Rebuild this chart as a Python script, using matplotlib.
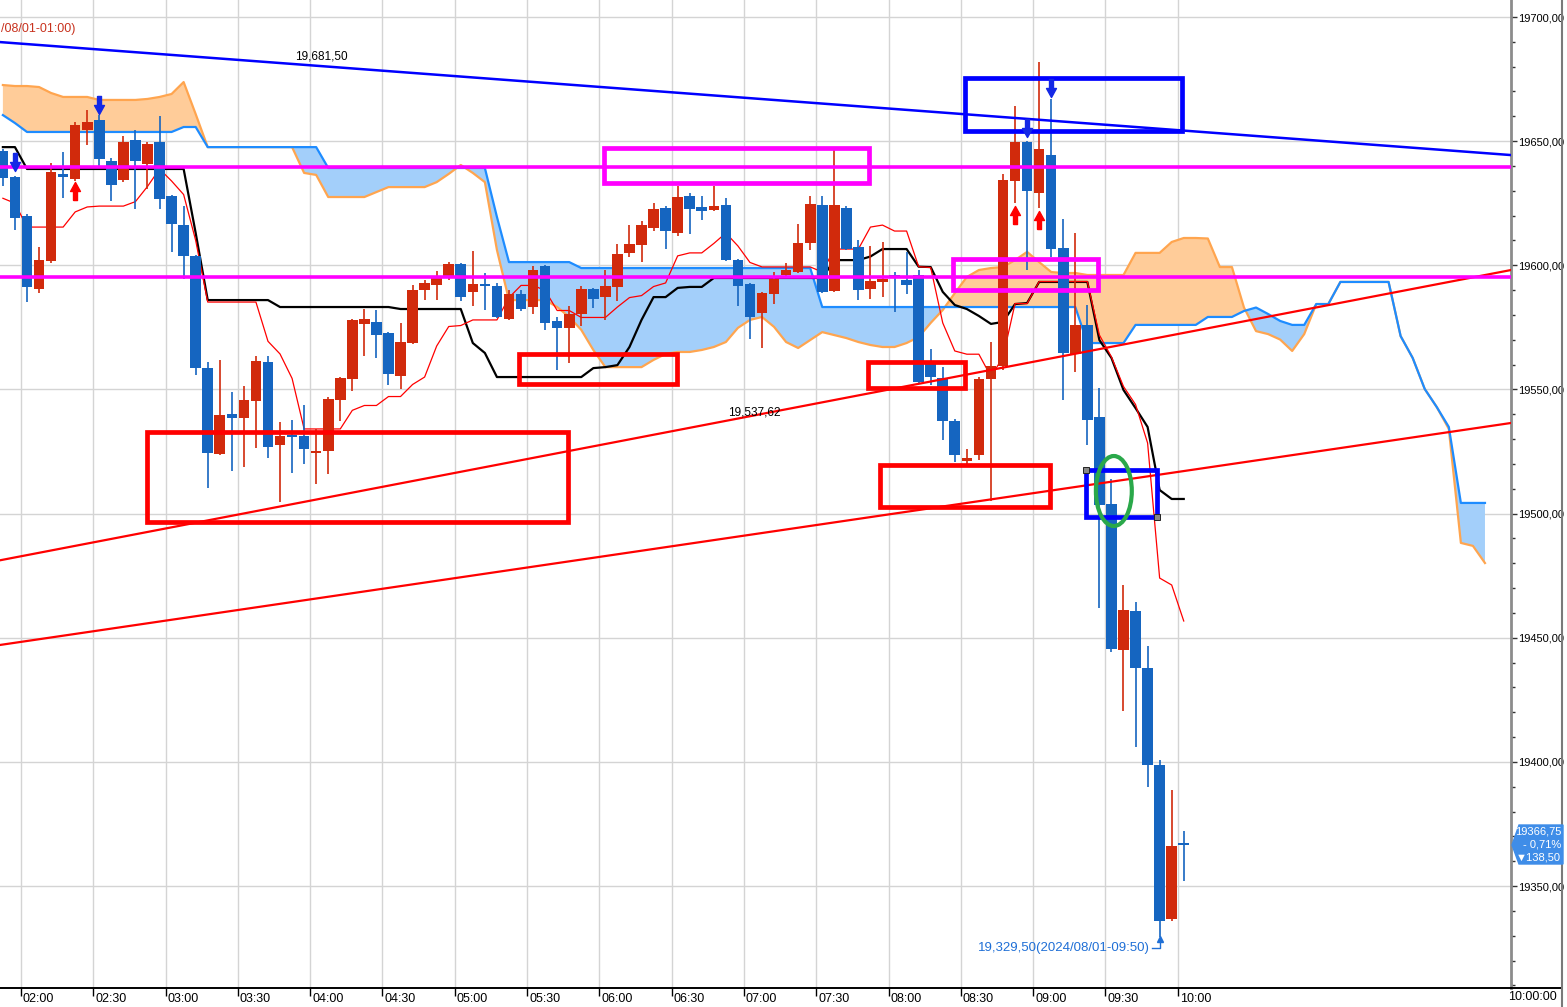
import matplotlib
matplotlib.use("Agg")
import matplotlib.pyplot as plt
import matplotlib.transforms as mtransforms
import numpy as np
import pandas as pd
from matplotlib.lines import Line2D
from matplotlib.patches import Ellipse, Polygon, Rectangle
from matplotlib.path import Path
from matplotlib.ticker import FuncFormatter, MultipleLocator

plt.rcParams['font.family'] = ['Liberation Sans', 'DejaVu Sans']

# ---- data: 5 minute bars, 2024-08-01 01:50 .. 10:00 ----
bar_times = pd.date_range("2024-08-01 01:50", "2024-08-01 10:00", freq="5min")

opens = [19646, 19635.6, 19619.9, 19590.5, 19601.7, 19636.8, 19634.8, 19654.5, 19658.5, 19642,
         19634.4, 19650.5, 19640.8, 19649.7, 19627.9, 19616.2, 19603.7, 19558.6, 19524, 19540.1,
         19538.5, 19545.4, 19561.1, 19527.6, 19531.7, 19531.3, 19524.4, 19525.2, 19545.8, 19554.2,
         19576.4, 19577.2, 19572.7, 19555.4, 19568.7, 19590.1, 19592.1, 19595.7, 19600.5, 19589.3,
         19592.5, 19591.7, 19578.4, 19588.5, 19583.2, 19599.7, 19577.6, 19574.8, 19580.4, 19590.5,
         19587.2, 19591.3, 19605, 19608.2, 19615, 19623.1, 19613, 19627.9, 19623.5, 19622.3,
         19624.3, 19602.1, 19592.5, 19580.8, 19588.5, 19596.1, 19597.3, 19609, 19624.3, 19589.7,
         19623.1, 19607.4, 19590.5, 19593.3, 19596, 19594, 19596.1, 19560.7, 19554.6, 19537.3,
         19521, 19523.6, 19554.2, 19559.4, 19634, 19649.7, 19629.1, 19644.4, 19607, 19564.3,
         19576, 19538.9, 19503.9, 19445.1, 19460.8, 19437.8, 19398.8, 19336.7, 19366.75]
highs = [19647, 19636, 19620.5, 19607.4, 19641.2, 19645.6, 19657.7, 19662.5, 19660.5, 19643.2,
         19652.1, 19654.5, 19649.5, 19660.1, 19628.5, 19623.9, 19604.2, 19561.1, 19561.9, 19549,
         19551.4, 19563.5, 19563.5, 19536.9, 19537.7, 19543.7, 19534.1, 19547, 19555, 19578.5,
         19582.4, 19582, 19573.2, 19576.8, 19592.1, 19594, 19597.7, 19601.3, 19601, 19605.8,
         19596.9, 19593, 19590, 19590, 19599.7, 19600.2, 19579.2, 19583.6, 19591.7, 19591,
         19598.1, 19608.6, 19616.2, 19617.8, 19625.1, 19624, 19632, 19629.1, 19627.9, 19632,
         19627.1, 19602.5, 19593, 19589.3, 19597.3, 19600.9, 19616.6, 19627.9, 19627.9, 19646.4,
         19624, 19610.2, 19607.8, 19609.4, 19597.3, 19605.4, 19598.1, 19566.3, 19559, 19538,
         19526, 19555, 19569, 19636.8, 19664.2, 19650, 19681.9, 19667, 19618.6, 19613,
         19584, 19550.6, 19514, 19471.3, 19464.4, 19446.7, 19400.8, 19388.7, 19372]
lows = [19632, 19614.2, 19585.2, 19588.8, 19601, 19627.1, 19634, 19648.5, 19640, 19626,
        19633.5, 19622.7, 19630.7, 19622.7, 19605.4, 19594.5, 19555.8, 19510.3, 19523.5, 19517.2,
        19518.8, 19526.4, 19522.4, 19504.7, 19516.4, 19520, 19511.9, 19516, 19537.3, 19549.4,
        19563.5, 19562.7, 19551.8, 19550.2, 19568.2, 19586, 19586, 19594.1, 19585.6, 19583.6,
        19582, 19578.8, 19578, 19581.6, 19580.4, 19574, 19557.8, 19560.7, 19575.6, 19582.8,
        19578, 19585.6, 19603.4, 19601.3, 19614, 19606.6, 19612, 19612.6, 19618.2, 19622,
        19601.7, 19583.6, 19570.3, 19566.7, 19584.4, 19595.3, 19597, 19606.2, 19589, 19589.3,
        19606, 19586, 19586.4, 19587.2, 19581.2, 19588.5, 19552.5, 19551.8, 19529.6, 19520.8,
        19519, 19521.6, 19505, 19557.8, 19625.1, 19598.1, 19623.1, 19603.4, 19545.8, 19557,
        19527.6, 19462, 19444.3, 19420.5, 19406, 19389.9, 19329.5, 19336, 19352]
closes = [19635, 19619, 19591.3, 19602.1, 19637.6, 19635.6, 19656.5, 19657.7, 19642.8, 19632.3,
          19649.7, 19642, 19648.9, 19626.7, 19616.6, 19603.7, 19558.6, 19524.4, 19539.7, 19538.5,
          19545.8, 19561.5, 19526.8, 19531.3, 19530.9, 19526, 19525.2, 19546.2, 19554.6, 19578,
          19578.4, 19571.9, 19556.2, 19569.1, 19590.1, 19592.9, 19594.9, 19600.5, 19587.2, 19592.5,
          19591.7, 19579.2, 19588.5, 19582.4, 19598.1, 19576.8, 19574.8, 19580.4, 19590.5, 19586.4,
          19591.7, 19604.6, 19608.6, 19616.2, 19622.7, 19613.8, 19627.5, 19622.7, 19621.9, 19623.9,
          19602.1, 19591.7, 19579.2, 19588.9, 19594.5, 19598.1, 19609, 19624.7, 19589.3, 19624.3,
          19606.6, 19590.1, 19593.7, 19594.5, 19595.3, 19592, 19553, 19555, 19537.3, 19523.6,
          19522.5, 19554.2, 19559.4, 19634.4, 19649.7, 19630, 19646.8, 19606.6, 19564.7, 19576,
          19537.7, 19503.5, 19445.5, 19461.2, 19437.8, 19398.8, 19335.9, 19366.1, 19366.75]

# conversion line (red) and base line (black)
tenkan = [19627, 19625, 19615.4, 19615.4, 19615.4, 19615.4, 19621.5, 19623.5, 19623.85, 19623.85,
          19623.85, 19625.65, 19631.75, 19638.8, 19633.95, 19628.5, 19610, 19585.2, 19585.2, 19585.2,
          19585.2, 19585.2, 19569.4, 19564.3, 19554.45, 19534.1, 19534.1, 19534.1, 19534.1, 19541.6,
          19543.55, 19543.55, 19547.15, 19547.15, 19552, 19555, 19567.5, 19575.35, 19575.75, 19578,
          19578, 19578, 19587, 19591.9, 19591.9, 19589.9, 19581.8, 19581.8, 19579, 19579,
          19579, 19583.2, 19587, 19587.8, 19591.45, 19592.9, 19603.8, 19605, 19605, 19608.8,
          19613, 19607.8, 19601.15, 19599.35, 19599.35, 19599.35, 19599.35, 19599.35, 19597.3, 19606.55,
          19606.55, 19606.55, 19615.4, 19616.2, 19613.8, 19613.8, 19599.45, 19599.1, 19576.8, 19565.5,
          19564.2, 19564.2, 19555.2, 19563, 19584.6, 19584.6, 19593.45, 19593.45, 19593.45, 19593.45,
          19593.45, 19571.95, 19563.1, 19551.2, 19543.95, 19528.45, 19474.05, 19471.25, 19456.75]
kijun = [19647.6, 19647.6, 19638.8, 19638.8, 19638.8, 19638.8, 19638.8, 19638.8, 19638.8, 19638.8,
         19638.8, 19638.8, 19638.8, 19638.8, 19638.8, 19638.8, 19613, 19586, 19586, 19586,
         19586, 19586, 19586, 19583.2, 19583.2, 19583.2, 19583.2, 19583.2, 19583.2, 19583.2,
         19583.2, 19583.2, 19583.2, 19582.4, 19582.4, 19582.4, 19582.4, 19582.4, 19582.4, 19568.7,
         19564.7, 19555, 19555, 19555, 19555, 19555, 19555, 19555, 19555, 19558.6,
         19559, 19559.8, 19567.1, 19578, 19587.2, 19587.2, 19590.9, 19591.3, 19591.3, 19594.9,
         19594.9, 19594.9, 19594.9, 19594.9, 19594.9, 19594.9, 19594.9, 19594.9, 19594.9, 19602.1,
         19602.1, 19602.1, 19603.55, 19606.55, 19606.55, 19606.55, 19599.45, 19599.3, 19589.3, 19584,
         19582.4, 19579.6, 19576.4, 19577.2, 19584.4, 19584.8, 19593.3, 19593.3, 19593.3, 19593.3,
         19593.3, 19569.9, 19562.7, 19549.8, 19542.5, 19534.9, 19509.5, 19505.9, 19505.9]

# leading spans, shifted ahead so they run 25 bars past the last bar
cloud_times = pd.date_range("2024-08-01 01:50", periods=124, freq="5min")
span_a = [19660.5, 19657.3,
          19653.7, 19653.7, 19653.7, 19653.7, 19653.7, 19653.7, 19653.7, 19653.7, 19653.7, 19653.7,
          19653.7, 19653.7, 19653.7, 19655.7, 19655.7,
          19647.6, 19647.6, 19647.6, 19647.6, 19647.6, 19647.6, 19647.6, 19647.6, 19647.6, 19647.6,
          19639.2, 19639.2, 19639.2, 19639.2, 19639.2, 19639.2, 19639.2, 19639.2, 19639.2, 19639.2,
          19639.2, 19639.2, 19639.2, 19639.2, 19619.5,
          19601.3, 19601.3, 19601.3, 19601.3, 19601.3, 19601.3,
          19598.9, 19598.9, 19598.9, 19598.9, 19598.9, 19598.9, 19598.9, 19598.9, 19598.9, 19598.9,
          19598.9, 19598.9, 19598.9, 19598.9, 19598.9, 19598.9, 19598.9, 19598.9, 19598.9, 19598.9,
          19583.2, 19583.2, 19583.2, 19583.2, 19583.2, 19583.2, 19583.2, 19583.2, 19583.2, 19583.2,
          19583.2, 19583.2, 19583.2, 19583.2, 19583.2, 19583.2, 19583.2, 19583.2, 19583.2, 19583.2,
          19583.2, 19583.2, 19568.7, 19568.7, 19568.7, 19568.7,
          19576, 19576, 19576, 19576, 19576, 19576, 19579.2, 19579.2, 19579.2,
          19581.6, 19583, 19580.4, 19577.6, 19576, 19576, 19584.4, 19584.4,
          19593.3, 19593.3, 19593.3, 19593.3, 19593.3,
          19571.5, 19562.7, 19550.2, 19542.9, 19534.9, 19504.3, 19504.3, 19504.3]
span_b = [19672.6, 19672.2, 19672.2, 19671.8,
          19669.4, 19667.8, 19667.8, 19667.8, 19666.6, 19666.6, 19666.6, 19666.6, 19667, 19667.8,
          19669, 19673.8, 19660.9,
          19647.6, 19647.6, 19647.6, 19647.6, 19647.6, 19647.6, 19647.6, 19647.6,
          19637.2, 19636.4, 19627.5, 19627.5, 19627.5, 19627.5, 19629.5, 19631.5, 19631.5, 19631.5,
          19631.5, 19633.5, 19636.8, 19640.4, 19637.2, 19633.5,
          19606.2, 19586, 19586, 19586, 19586, 19583.2, 19579.2, 19574, 19565.9, 19559, 19559,
          19559, 19559,
          19561.9, 19564.3, 19565.1, 19565.1, 19565.9, 19567.1, 19569.1, 19574.8, 19578, 19579.2,
          19575.2, 19569.1, 19566.7, 19569.9, 19573.1, 19571.9, 19570.7, 19569.1, 19567.9, 19567.1,
          19567.1, 19568.7, 19571.1, 19576.8, 19582, 19588.8, 19595.3, 19598.1, 19598.9, 19599.3,
          19602.1, 19605.4, 19601.3, 19597.3, 19596.9, 19596.9, 19596.1, 19596.1, 19596.1, 19596.1,
          19605, 19605, 19605, 19609.4, 19611, 19611, 19610.8, 19599.3, 19599.3, 19583,
          19573.5, 19572.3, 19570.1, 19565.5, 19572.3, 19584.4, 19584.4, 19593.3, 19593.3, 19593.3,
          19593.3, 19593.3, 19571.5, 19562.7, 19550.2, 19542.9, 19534.1, 19488.2, 19487, 19480.1]

# drawn trend lines: (minutes after 02:00, price) at both ends
blue_trend = [(-8.7, 19689.9), (618.3, 19644.4)]
red_trend_upper = [(-8.7, 19481.2), (618.3, 19598.1)]
red_trend_lower = [(-8.7, 19447.1), (618.3, 19536.5)]
magenta_levels = [19639.4, 19595.4]

# boxes: (t0, t1, p0, p1, colour)
boxes = [(241.9, 351.9, 19633.1, 19647.2, '#ff00ff'),
         (386.7, 446.9, 19590.0, 19602.5, '#ff00ff'),
         (52.3, 227.0, 19496.6, 19532.9, '#ff0000'),
         (206.6, 272.2, 19552.2, 19564.3, '#ff0000'),
         (351.5, 391.7, 19550.6, 19561.1, '#ff0000'),
         (356.4, 427.0, 19502.7, 19519.6, '#ff0000'),
         (391.7, 481.7, 19654.1, 19675.4, '#0000ff'),
         (441.9, 471.4, 19498.6, 19517.6, '#0000ff')]

# signal arrows (minutes, price)
buy_signals = [(22.5, 19629.9), (412.5, 19620.3), (422.5, 19618.2)]
sell_signals = [(-2.5, 19641.6), (32.5, 19664.6), (417.5, 19655.3), (427.5, 19671.4)]

tick_labels = ["02:00", "02:30", "03:00", "03:30", "04:00", "04:30", "05:00", "05:30", "06:00",
               "06:30", "07:00", "07:30", "08:00", "08:30", "09:00", "09:30", "10:00"]

assert len(opens) == len(highs) == len(lows) == len(closes) == len(bar_times)
assert len(tenkan) == len(kijun) == len(bar_times)
assert len(span_a) == len(span_b) == len(cloud_times)

UP = '#d12a0c'
DOWN = '#1565c0'
W, H = 1567, 1007


def fx(px):
    return px / W


def fy(py):
    return 1 - py / H


t0 = pd.Timestamp("2024-08-01 02:00")
x = np.asarray((bar_times - t0) / pd.Timedelta(minutes=1), dtype=float) + 2.5
xc = np.asarray((cloud_times - t0) / pd.Timedelta(minutes=1), dtype=float) + 2.5

o, h, l, c = (np.array(v, dtype=float) for v in (opens, highs, lows, closes))
sa, sb = np.array(span_a), np.array(span_b)

fig = plt.figure(figsize=(W / 100, H / 100), dpi=100)
ax = fig.add_axes([0, 19 / H, 1511 / W, 988 / H])
ax.set_xlim(-8.7, 618.3)
ax.set_ylim(19308.95, 19706.85)

# cloud
ax.fill_between(xc, sa, sb, where=sa >= sb, interpolate=True, color='#a3cffa', lw=0, zorder=1)
ax.fill_between(xc, sa, sb, where=sa < sb, interpolate=True, color='#ffcc99', lw=0, zorder=1)
ax.plot(xc, sb, color='#ffa54f', lw=1.6, zorder=2)
ax.plot(xc, sa, color='#1e8cff', lw=1.6, zorder=2)

ax.plot(x, kijun, color='black', lw=1.6, zorder=3)
ax.plot(x, tenkan, color='#ff0000', lw=0.9, zorder=3)

# candles
col = np.where(c > o, UP, DOWN)
mid = (o + c) / 2
tiny = np.abs(c - o) < 0.8
body_lo = np.where(tiny, mid - 0.4, np.minimum(o, c))
body_h = np.where(tiny, 0.8, np.abs(c - o))
ax.vlines(x, l, h, colors=col, lw=1.2, zorder=4)
ax.bar(x, body_h, bottom=body_lo, width=4.4, color=col, lw=0, zorder=5)

# trend lines and levels
for line, colr, lw in ((blue_trend, '#0000ff', 1.8), (red_trend_upper, '#ff0000', 1.6),
                       (red_trend_lower, '#ff0000', 1.6)):
    ax.plot([p[0] for p in line], [p[1] for p in line], color=colr, lw=lw, zorder=6)
for lvl in magenta_levels:
    ax.axhline(lvl, color='#ff00ff', lw=2.6, zorder=6)

for t_a, t_b, p_a, p_b, colr in boxes:
    ax.add_patch(Rectangle((t_a, p_a), t_b - t_a, p_b - p_a, fill=False,
                           edgecolor=colr, lw=3.4, zorder=7))
ax.add_patch(Ellipse((453.5, 19509.1), 14.9, 28.2, fill=False, edgecolor='#2aa84a',
                     lw=3, zorder=8))
ax.plot([441.9, 471.4], [19517.6, 19498.6], ls='none', marker='s', ms=4,
        mfc='#888888', mec='#222222', mew=0.7, zorder=9)

# signal arrows
up_arrow = Path([(-0.22, -1), (0.22, -1), (0.22, 0), (0.55, 0), (0, 1), (-0.55, 0),
                 (-0.22, 0), (-0.22, -1)])
down_arrow = Path([(vx, -vy) for vx, vy in up_arrow.vertices])
ax.plot([p[0] for p in buy_signals], [p[1] for p in buy_signals], ls='none',
        marker=up_arrow, ms=13, color='#ff0000', zorder=9)
ax.plot([p[0] for p in sell_signals], [p[1] for p in sell_signals], ls='none',
        marker=down_arrow, ms=13, color='#1428e6', zorder=9)

# labels inside plot
ax.text(113.7, 19683.9, "19,681,50", fontsize=8.5, va='center', ha='left', zorder=10)
ax.text(293.4, 19540.9, "19,537,62", fontsize=8.5, va='center', ha='left', zorder=10)
ax.text(-8.3, 19695.2, "/08/01-01:00)", fontsize=9, color='#c8321e',
        va='center', ha='left', zorder=10)
ax.text(468.5, 19325.1, "19,329,50(2024/08/01-09:50)", fontsize=9.5, color='#1f6fd6',
        va='center', ha='right', zorder=10)
ax.plot([469.3, 472.5, 472.5], [19325.1, 19325.1, 19328.6], color='#1f6fd6', lw=1, zorder=10)
ax.plot([472.5], [19328.8], marker='^', ms=4, color='#1f6fd6', zorder=10)

# axes styling
ax.set_axisbelow(True)
ax.grid(True, color='#d4d4d4', lw=1)
for side in ('left', 'top'):
    ax.spines[side].set_visible(False)
ax.spines['right'].set_color('#8c8c8c')
ax.spines['right'].set_linewidth(2)
ax.spines['bottom'].set_color('black')
ax.spines['bottom'].set_linewidth(1.4)

ax.yaxis.tick_right()
ax.yaxis.set_major_locator(MultipleLocator(50))
ax.yaxis.set_minor_locator(MultipleLocator(10))
ax.yaxis.set_major_formatter(FuncFormatter(lambda v, p: f"{v:.2f}".replace('.', ',')))
ax.tick_params(axis='y', which='major', length=4, width=1, color='#333333', labelsize=8,
               pad=0.8)
ax.tick_params(axis='y', which='minor', length=3, width=1, color='#333333')

ax.set_xticks(range(0, 481, 30))
ax.set_xticklabels(tick_labels)
ax.tick_params(axis='x', length=6, width=1, color='black', labelsize=9, pad=-2.2)
shift = mtransforms.ScaledTranslation(2 / 100, 0, fig.dpi_scale_trans)
for lab in ax.get_xticklabels():
    lab.set_ha('left')
    lab.set_transform(lab.get_transform() + shift)

# right-hand panel extras
fig.add_artist(Line2D([fx(1511), fx(1562)], [fy(988)] * 2, color='black', lw=1.4))
fig.add_artist(Line2D([fx(1562)] * 2, [0, 1], color='#7a7a7a', lw=1.5))
fig.text(fx(1557), fy(997), "10:00:00", ha='right', va='center', fontsize=9)

badge = Polygon([(fx(1512), fy(845)), (fx(1519), fy(825)), (fx(1563), fy(825)),
                 (fx(1563), fy(864)), (fx(1519), fy(864))], closed=True,
                transform=fig.transFigure, color='#3f8de8', zorder=20)
fig.add_artist(badge)
for py, txt in ((831.5, "19366,75"), (844.5, "- 0,71%"), (857.5, "\u25bc138,50")):
    fig.text(fx(1561), fy(py), txt, ha='right', va='center', fontsize=8,
             color='white', zorder=21)

fig.savefig("out.png", dpi=100)
